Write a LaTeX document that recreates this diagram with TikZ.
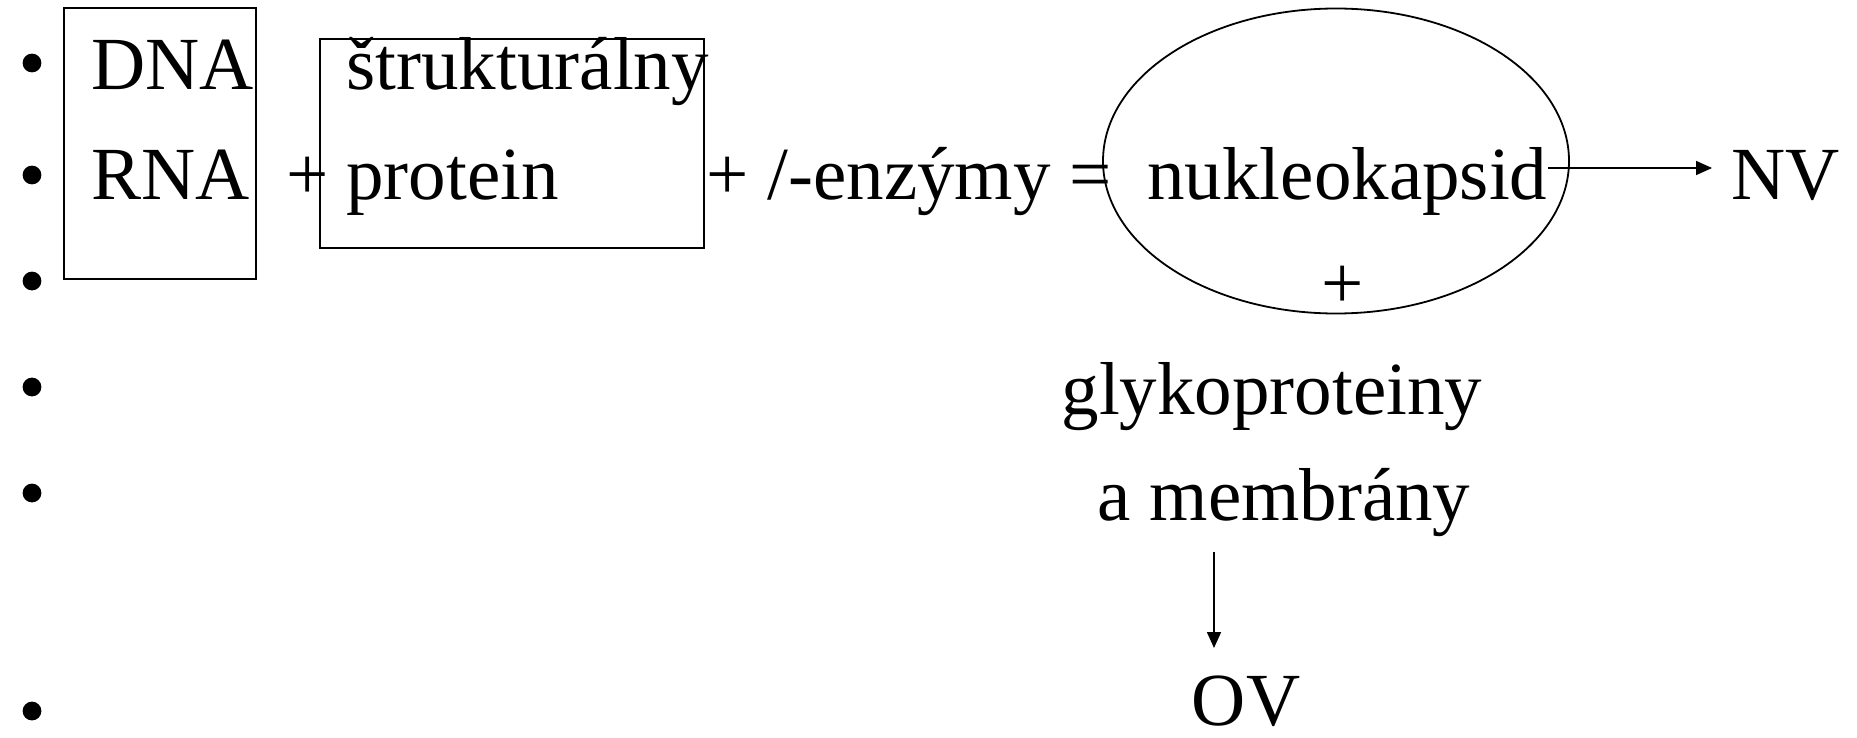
\documentclass[tikz,border=0pt]{standalone}
\usepackage{fontspec}
\setmainfont{Liberation Serif}
\usetikzlibrary{shapes.geometric,arrows.meta}
\begin{document}
\begin{tikzpicture}[x=0.5pt,y=-0.5pt,
  txt/.style={anchor=base west,inner sep=0pt,font=\fontsize{37.5}{45}\selectfont},
  ctxt/.style={anchor=base,inner sep=0pt,font=\fontsize{37.5}{45}\selectfont},
  frame/.style={draw,line width=0.9pt},
  arr/.style={-{Triangle[length=8pt,width=7pt]},line width=0.85pt}]
\useasboundingbox (0,0) rectangle (1857,738);

% bullets of the list
\foreach \y in {63,175,281,387,493,711}
  \fill (32,\y) circle[radius=4.7pt];

% boxes round the nucleic acid and the structural protein
\draw[frame] (64,8) rectangle (256,279);
\draw[frame] (320,39) rectangle (704,248);

% first line
\node[txt] (dna) at (91,90) {DNA};
\node[txt] (str) at (346,90) {štrukturálny};

% second line
\node[txt] (rna) at (91,199) {RNA};
\node[txt] (plus1) at (286,199) {+};
\node[txt] (prot) at (346,199) {protein};
\node[txt] (enz) at (706,199) {+ /-enzýmy =};
\node[txt] (nk) at (1147,199) {nukleokapsid};
\node[txt,inner xsep=9.5pt] (nv) at (1712,199) {NV};

% capsid ellipse
\node[draw,ellipse,line width=0.9pt,minimum width=233pt,minimum height=152.5pt,inner sep=0pt] (ell) at (1336,161) {};
\node[ctxt] (plus2) at (1343,308) {+};

% envelope components
\node[ctxt] (gly) at (1272,414) {glykoproteiny};
\node[ctxt] (mem) at (1284,520) {a membrány};
\node[ctxt] (ov) at (1246,725) {OV};

% connectors
\draw[arr] ([yshift=15.5pt]nk.base east) -- ([yshift=15.5pt]nv.base west);
\coordinate (d1) at (1214,552);
\coordinate (d2) at (1214,648);
\draw[arr] (d1) -- (d2);
\end{tikzpicture}
\end{document}
